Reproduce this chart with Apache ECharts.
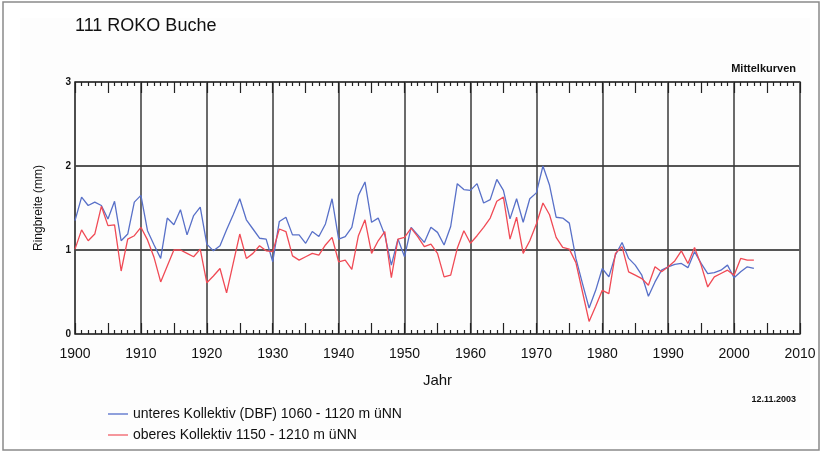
<!DOCTYPE html>
<html>
<head>
<meta charset="utf-8">
<script src="https://cdn.jsdelivr.net/npm/echarts@6/dist/echarts.min.js"></script>
<style>
html,body{margin:0;padding:0;background:#fff;}
#c{width:823px;height:453px;}
</style>
</head>
<body>
<div id="c"></div>
<script>
const startYear = 1900;
const lowerCollective = [
  1.35,1.63,1.53,1.57,1.53,1.37,1.58,1.11,1.19,1.57,
  1.65,1.23,1.06,0.90,1.38,1.30,1.48,1.18,1.41,1.51,
  1.07,0.99,1.05,1.24,1.42,1.61,1.36,1.25,1.14,1.13,
  0.86,1.34,1.39,1.18,1.18,1.08,1.22,1.16,1.31,1.61,
  1.13,1.16,1.27,1.65,1.81,1.33,1.38,1.18,0.82,1.13,
  0.92,1.27,1.18,1.09,1.27,1.21,1.06,1.28,1.79,1.72,
  1.71,1.79,1.56,1.60,1.84,1.71,1.37,1.61,1.33,1.61,
  1.68,2.00,1.77,1.39,1.38,1.32,0.90,0.60,0.31,0.52,
  0.78,0.68,0.94,1.09,0.90,0.82,0.70,0.45,0.62,0.76,
  0.80,0.83,0.84,0.79,0.98,0.84,0.72,0.73,0.76,0.82,
  0.67,0.74,0.80,0.78
];
const upperCollective = [
  1.01,1.24,1.11,1.19,1.52,1.29,1.30,0.75,1.13,1.17,
  1.27,1.12,0.91,0.62,0.81,1.00,1.00,0.96,0.92,1.01,
  0.61,0.69,0.78,0.49,0.84,1.19,0.90,0.96,1.05,0.99,
  0.98,1.25,1.22,0.93,0.88,0.92,0.96,0.94,1.06,1.15,
  0.86,0.88,0.77,1.17,1.36,0.96,1.11,1.22,0.67,1.13,
  1.15,1.26,1.16,1.04,1.07,0.96,0.68,0.70,1.02,1.23,
  1.08,1.17,1.27,1.38,1.58,1.63,1.13,1.39,0.96,1.11,
  1.31,1.56,1.42,1.15,1.03,1.01,0.85,0.50,0.15,0.33,
  0.52,0.48,0.96,1.04,0.74,0.70,0.66,0.58,0.80,0.74,
  0.80,0.87,0.99,0.84,1.03,0.82,0.56,0.68,0.72,0.76,
  0.70,0.90,0.88,0.88
];
const seriesNames = ['unteres Kollektiv (DBF) 1060 - 1120 m üNN', 'oberes Kollektiv 1150 - 1210 m üNN'];
const titleText = '111 ROKO Buche';
const subtitleText = 'Mittelkurven';
const dateText = '12.11.2003';
const xAxisName = 'Jahr';
const yAxisName = 'Ringbreite (mm)';

const years = lowerCollective.map((_, i) => startYear + i);
const toPairs = arr => arr.map((v, i) => [years[i], v]);

const FONT = '"Liberation Sans", Arial, sans-serif';
const chart = echarts.init(document.getElementById('c'), null, {renderer: 'canvas'});
const gridPos = {left: 75, right: 23, top: 82, bottom: 119};
const tickStyle = {color: '#222', width: 1.2};

chart.setOption({
  animation: false,
  backgroundColor: '#ffffff',
  graphic: [
    {type: 'rect', shape: {x: 3, y: 2, width: 816, height: 448}, style: {fill: 'none', stroke: '#8a8a8a', lineWidth: 1.5}, z: -10},
    {type: 'rect', shape: {x: 20, y: 18, width: 790, height: 422}, style: {fill: '#fdfdfd'}, z: -20},
    {type: 'text', left: 75, top: 17, style: {text: titleText, font: '18px ' + FONT, fill: '#111'}},
    {type: 'text', right: 27, top: 63, style: {text: subtitleText, font: 'bold 11px ' + FONT, fill: '#111'}},
    {type: 'text', right: 27, top: 395, style: {text: dateText, font: 'bold 9px ' + FONT, fill: '#111'}},
    {type: 'rect', shape: {x: 4, y: 441, width: 814, height: 8}, style: {fill: '#ffffff'}, z: 100}
  ],
  legend: {
    orient: 'vertical', left: 103, top: 402, itemGap: 7,
    itemWidth: 20, itemHeight: 2, icon: 'rect',
    textStyle: {fontFamily: FONT, fontSize: 14, color: '#111'},
    data: seriesNames
  },
  grid: gridPos,
  xAxis: [
    {
      type: 'value', min: 1900, max: 2010, interval: 10, position: 'bottom',
      name: xAxisName, nameLocation: 'middle', nameGap: 39,
      nameTextStyle: {fontFamily: FONT, fontSize: 15, color: '#111'},
      axisLine: {show: true, lineStyle: {color: '#444', width: 1.5}},
      axisTick: {show: false},
      axisLabel: {margin: 13, fontFamily: FONT, fontSize: 14, color: '#111', formatter: v => String(v)},
      splitLine: {show: true, lineStyle: {color: '#3a3a3a', width: 1.5}}
    },
    {
      type: 'value', min: 1900, max: 2010, interval: 5, position: 'bottom',
      axisLine: {show: false},
      axisTick: {show: true, inside: true, length: 11, lineStyle: tickStyle},
      minorTick: {show: true, splitNumber: 5, length: 4, lineStyle: tickStyle},
      axisLabel: {show: false}, splitLine: {show: false}
    },
    {
      type: 'value', min: 1900, max: 2010, interval: 5, position: 'top',
      axisLine: {show: true, lineStyle: {color: '#444', width: 1.5}},
      axisTick: {show: true, inside: true, length: 11, lineStyle: tickStyle},
      minorTick: {show: true, splitNumber: 5, length: 4, lineStyle: tickStyle},
      axisLabel: {show: false}, splitLine: {show: false}
    }
  ],
  yAxis: [
    {
      type: 'value', min: 0, max: 3, interval: 1, position: 'left',
      name: yAxisName, nameLocation: 'middle', nameGap: 30, nameRotate: 90,
      nameTextStyle: {fontFamily: FONT, fontSize: 12, color: '#111'},
      axisLine: {show: true, lineStyle: {color: '#444', width: 1.5}},
      axisTick: {show: false},
      axisLabel: {margin: 4, fontFamily: FONT, fontSize: 10, fontWeight: 'bold', color: '#111'},
      splitLine: {show: true, lineStyle: {color: '#555', width: 2}}
    },
    {
      type: 'value', min: 0, max: 3, interval: 1, position: 'right',
      axisLine: {show: true, lineStyle: {color: '#666', width: 1.5}},
      axisTick: {show: false}, axisLabel: {show: false}, splitLine: {show: false}
    }
  ],
  series: [
    {
      name: seriesNames[0], type: 'line', xAxisIndex: 0, yAxisIndex: 0,
      data: toPairs(lowerCollective), symbol: 'none', smooth: false,
      lineStyle: {color: '#5870c8', width: 1.3}, itemStyle: {color: '#8fa0dc'}, z: 3
    },
    {
      name: seriesNames[1], type: 'line', xAxisIndex: 0, yAxisIndex: 0,
      data: toPairs(upperCollective), symbol: 'none', smooth: false,
      lineStyle: {color: '#f04a55', width: 1.3}, itemStyle: {color: '#f5969c'}, z: 4
    }
  ]
});
</script>
</body>
</html>
